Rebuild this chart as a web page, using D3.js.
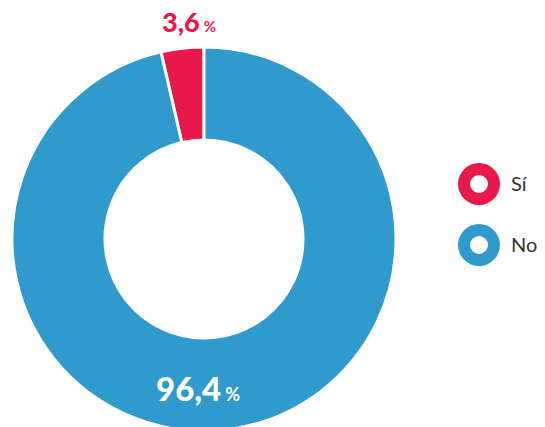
<!doctype html>
<html lang="es">
<head>
  <meta charset="utf-8">
  <title>Sí / No</title>
  <script src="https://cdn.jsdelivr.net/npm/d3@7"></script>
  <style>
    body { margin: 0; background: #fff; }
    svg { display: block; }
    .num { font-family: "Lato", sans-serif; font-weight: 900; }
    .leg { font-family: "Lato", sans-serif; fill: #333; }
  </style>
</head>
<body>
  <svg width="545" height="427"></svg>
  <script>
    const categories = ["Sí", "No"];
    const values = [3.6, 96.4];
    const colors = ["#e8184b", "#2f9acb"];

    const svg = d3.select("svg");
    const cx = 204, cy = 239;
    const outerR = 192, innerR = 99;

    // comma decimal, as in the source
    const es = d3.formatLocale({decimal: ",", thousands: ".", grouping: [3], currency: ["", " €"]});
    const fmt = es.format(".1f");

    const color = d3.scaleOrdinal().domain(categories).range(colors);

    // the "Sí" slice ends at 12 o'clock, going counter-clockwise
    const startA = -2 * Math.PI * values[0] / d3.sum(values);
    const pie = d3.pie().sort(null).value(d => d.v)
      .startAngle(startA).endAngle(startA + 2 * Math.PI);
    const data = categories.map((c, i) => ({c: c, v: values[i]}));
    const arcs = pie(data);

    const arc = d3.arc().innerRadius(innerR).outerRadius(outerR);

    const g = svg.append("g").attr("transform", `translate(${cx},${cy})`);
    g.selectAll("path")
      .data(arcs)
      .enter()
      .append("path")
        .attr("d", arc)
        .style("fill", d => color(d.data.c))
        .style("stroke", "#fff")
        .style("stroke-width", 3);

    // value labels
    const lab = g.selectAll("text.num")
      .data(arcs)
      .enter()
      .append("text")
        .attr("class", "num")
        .attr("text-anchor", "middle")
        .attr("x", (d, i) => i === 0 ? -15 : -6)
        .attr("y", (d, i) => i === 0 ? -207 : 162)
        .style("fill", (d, i) => i === 0 ? colors[0] : "#fff");
    lab.append("tspan")
      .style("font-size", (d, i) => i === 0 ? "27px" : "33px")
      .text(d => fmt(d.data.v));
    lab.append("tspan")
      .attr("dx", 4)
      .style("font-size", (d, i) => i === 0 ? "15px" : "18px")
      .style("font-weight", "bold")
      .text("%");

    // legend: little rings
    const ring = d3.arc().innerRadius(9).outerRadius(21).startAngle(0).endAngle(2 * Math.PI);
    const leg = svg.append("g").attr("transform", "translate(479,184)")
      .selectAll("g")
      .data(categories)
      .enter()
      .append("g")
        .attr("transform", (d, i) => `translate(0,${i * 61})`);
    leg.append("path").attr("d", ring).style("fill", d => color(d));
    leg.append("text")
      .attr("class", "leg")
      .attr("x", 32)
      .attr("y", 7)
      .style("font-size", "20px")
      .text(d => d);
  </script>
</body>
</html>
